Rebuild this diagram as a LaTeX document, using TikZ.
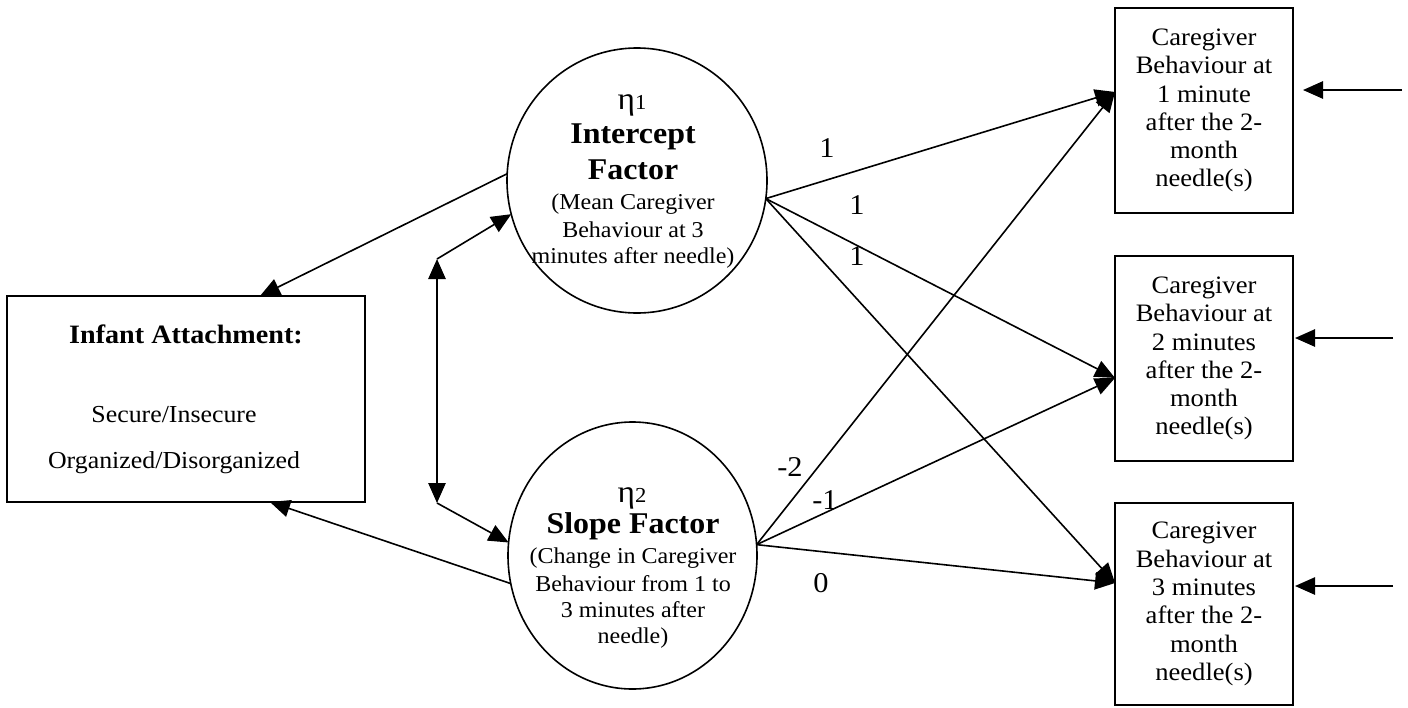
\documentclass[tikz,border=0pt]{standalone}
\usepackage{fontspec}
\setmainfont{Liberation Serif}[FakeStretch=1.06]
\usetikzlibrary{shapes.geometric,arrows.meta}
\begin{document}
\begin{tikzpicture}[x=0.75pt,y=-0.75pt,
  every node/.style={inner sep=0pt, outer sep=0pt},
  line/.style={line width=1.2pt, black},
  arr/.style={line, -{Triangle[length=15pt,width=13pt]}},
  dbl/.style={line, {Triangle[length=15pt,width=13pt]}-{Triangle[length=15pt,width=13pt]}},
  latent/.style={draw, line width=1.2pt, ellipse},
  obs/.style={draw, line width=1.2pt, rectangle, align=center, font=\fontsize{18.8pt}{21.2pt}\selectfont},
  box/.style={draw, line width=1.2pt, rectangle},
  txt/.style={anchor=base, font=\fontsize{17pt}{19pt}\selectfont},
  ttl/.style={anchor=base, font=\fontsize{22.6pt}{25pt}\selectfont\bfseries},
  eta/.style={anchor=base, font=\fontsize{23.6pt}{24pt}\selectfont},
  lab/.style={font=\fontsize{21.5pt}{22pt}\selectfont}
]
\useasboundingbox (0,0) rectangle (1408,707);

% latent factors
\node[latent, minimum width=195pt, minimum height=198.75pt] (c1) at (637,180.5) {};
\node[latent, minimum width=186.75pt, minimum height=200.25pt] (c2) at (632.5,555.5) {};

\node[eta] (c1eta) at (632,109) {η{\fontsize{16pt}{16pt}\selectfont 1}};
\node[ttl] (c1t1) at (633,143) {Intercept};
\node[ttl] (c1t2) at (633,179) {Factor};
\node[txt] (c1t3) at (633,209) {(Mean Caregiver};
\node[txt] (c1t4) at (633,237) {Behaviour at 3};
\node[txt] (c1t5) at (633,263) {minutes after needle)};

\node[eta] (c2eta) at (632,502) {η{\fontsize{16pt}{16pt}\selectfont 2}};
\node[ttl] (c2t1) at (633,533) {Slope Factor};
\node[txt] (c2t2) at (633,563) {(Change in Caregiver};
\node[txt] (c2t3) at (633,591) {Behaviour from 1 to};
\node[txt] (c2t4) at (633,617) {3 minutes after};
\node[txt] (c2t5) at (633,643) {needle)};

% infant attachment
\node[box, minimum width=268.5pt, minimum height=154.5pt] (ia) at (186,399) {};
\node[anchor=base, font=\fontsize{19.9pt}{22pt}\selectfont\bfseries] (ia1) at (186,343) {Infant Attachment:};
\node[anchor=base, font=\fontsize{18.3pt}{20pt}\selectfont] (ia2) at (174,422) {Secure/Insecure};
\node[anchor=base, font=\fontsize{18.3pt}{20pt}\selectfont] (ia3) at (174,468) {Organized/Disorganized};

% observed
\node[obs, minimum width=133.5pt, minimum height=153.75pt] (b1) at (1204,110.5) {Caregiver\\Behaviour at\\1 minute\\after the 2-\\month\\needle(s)};
\node[obs, minimum width=133.5pt, minimum height=153.75pt] (b2) at (1204,358.5) {Caregiver\\Behaviour at\\2 minutes\\after the 2-\\month\\needle(s)};
\node[obs, minimum width=133.5pt, minimum height=151.5pt] (b3) at (1204,604) {Caregiver\\Behaviour at\\3 minutes\\after the 2-\\month\\needle(s)};

% left paths
\draw[arr] (c1.177) -- ([xshift=55.5pt]ia.north);
\draw[arr] (c2.193) -- ([xshift=63pt]ia.south);

\coordinate (dtop) at (437,259);
\coordinate (dbot) at (437,503);
\draw[arr] (dtop) -- (c1.195);
\draw[dbl] (dtop) -- (dbot);
\draw[arr] (dbot) -- (c2.174);

% loadings
\draw[arr] (c1.-8) -- ([yshift=13.9pt]b1.west);
\draw[arr] (c1.-8) -- ([yshift=-14.6pt]b2.west);
\draw[arr] (c1.-8) -- ([yshift=15.75pt]b3.west);
\draw[arr] (c2.5) -- ([yshift=13.9pt]b1.west);
\draw[arr] (c2.5) -- ([yshift=-14.6pt]b2.west);
\draw[arr] (c2.5) -- ([yshift=15.75pt]b3.west);

\node[lab] (l1) at (827,148) {1};
\node[lab] (l2) at (857,205) {1};
\node[lab] (l3) at (857,256) {1};
\node[lab] (l4) at (790,467) {-2};
\node[lab] (l5) at (825,500) {-1};
\node[lab] (l6) at (821,583) {0};

% residual inputs
\coordinate (in1) at (1402,90);
\coordinate (in2) at (1393,338);
\coordinate (in3) at (1393,586);
\draw[arr, shorten >=7.5pt] (in1) -- (in1 -| b1.east);
\draw[arr, shorten >=1.5pt] (in2) -- (in2 -| b2.east);
\draw[arr, shorten >=1.5pt] (in3) -- (in3 -| b3.east);
\end{tikzpicture}
\end{document}
